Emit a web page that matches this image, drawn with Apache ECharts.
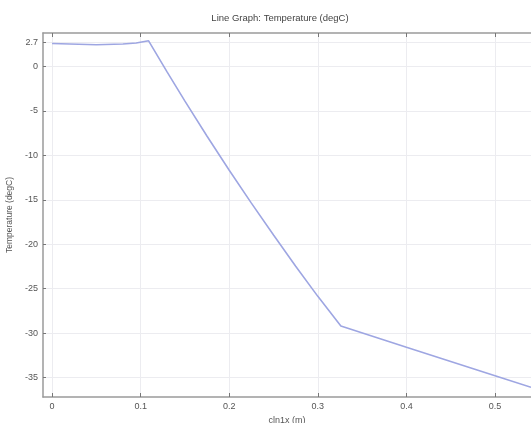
<!DOCTYPE html>
<html><head><meta charset="utf-8">
<script src="https://cdn.jsdelivr.net/npm/echarts@6/dist/echarts.min.js"></script>
<style>html,body{margin:0;padding:0;background:#fff}#c{width:531px;height:423px}</style>
</head><body><div id="c"></div>
<script>
var xValues = [0, 0.02, 0.05, 0.08, 0.095, 0.109, 0.13, 0.15, 0.175, 0.2, 0.225, 0.25, 0.275, 0.3, 0.326, 0.4, 0.5, 0.5406];
var tempValues = [2.6, 2.55, 2.45, 2.55, 2.65, 2.9, -0.63, -3.89, -7.84, -11.67, -15.37, -18.97, -22.47, -25.87, -29.2, -31.6, -34.8, -36.1];
var xTicks = [0, 0.1, 0.2, 0.3, 0.4, 0.5];
var yTicks = [2.7, 0, -5, -10, -15, -20, -25, -30, -35];
var titleText = 'Line Graph: Temperature (degC)';
var xName = 'cln1x (m)';
var yName = 'Temperature (degC)';

var data = xValues.map(function(x, i){ return [x, tempValues[i]]; });
var chart = echarts.init(document.getElementById('c'), null, {renderer:'canvas'});
var axisCol = '#9a9a9a', txt = '#555', font = 'Liberation Sans, DejaVu Sans, sans-serif';
chart.setOption({
  animation: false,
  title: {text: titleText, left: 275, top: 8, textAlign: 'center',
    textStyle: {fontSize: 9.5, fontWeight: 'normal', color: '#444', fontFamily: font}},
  grid: {left: 43, top: 33, right: 0, bottom: 26, containLabel: false, outerBoundsMode: 'none'},
  xAxis: [{
    type: 'value', position: 'bottom', min: -0.0102, max: 0.5406,
    name: xName, nameLocation: 'middle', nameGap: 16,
    nameTextStyle: {fontSize: 9, color: txt, fontFamily: font},
    axisLine: {show: true, onZero: false, lineStyle: {color: axisCol, width: 1.5}},
    axisTick: {show: true, inside: true, length: 4, customValues: xTicks, lineStyle: {color: '#777'}},
    axisLabel: {customValues: xTicks, fontSize: 9, color: txt, margin: 5, fontFamily: font,
      formatter: function(v){ return String(+v.toFixed(2)); }},
    splitLine: {show: true, lineStyle: {color: '#ececf0', width: 1}}
  }, {
    type: 'value', position: 'top', min: -0.0102, max: 0.5406,
    axisLine: {show: true, onZero: false, lineStyle: {color: axisCol, width: 1.5}},
    axisTick: {show: true, inside: true, length: 4, customValues: xTicks, lineStyle: {color: '#777'}},
    axisLabel: {show: false}, splitLine: {show: false}
  }],
  yAxis: {
    type: 'value', min: -37.2, max: 3.78,
    name: yName, nameLocation: 'middle', nameGap: 28,
    nameTextStyle: {fontSize: 8.5, color: txt, fontFamily: font},
    axisLine: {show: true, onZero: false, lineStyle: {color: axisCol, width: 1.5}},
    axisTick: {show: true, inside: true, length: 3, customValues: yTicks, lineStyle: {color: '#777'}},
    axisLabel: {customValues: yTicks, fontSize: 9, color: txt, margin: 5, fontFamily: font},
    splitLine: {show: true, lineStyle: {color: '#ececf0', width: 1}}
  },
  series: [{
    type: 'line', data: data, showSymbol: false, smooth: false,
    lineStyle: {color: '#9ea6e2', width: 1.6}
  }]
});
</script></body></html>
